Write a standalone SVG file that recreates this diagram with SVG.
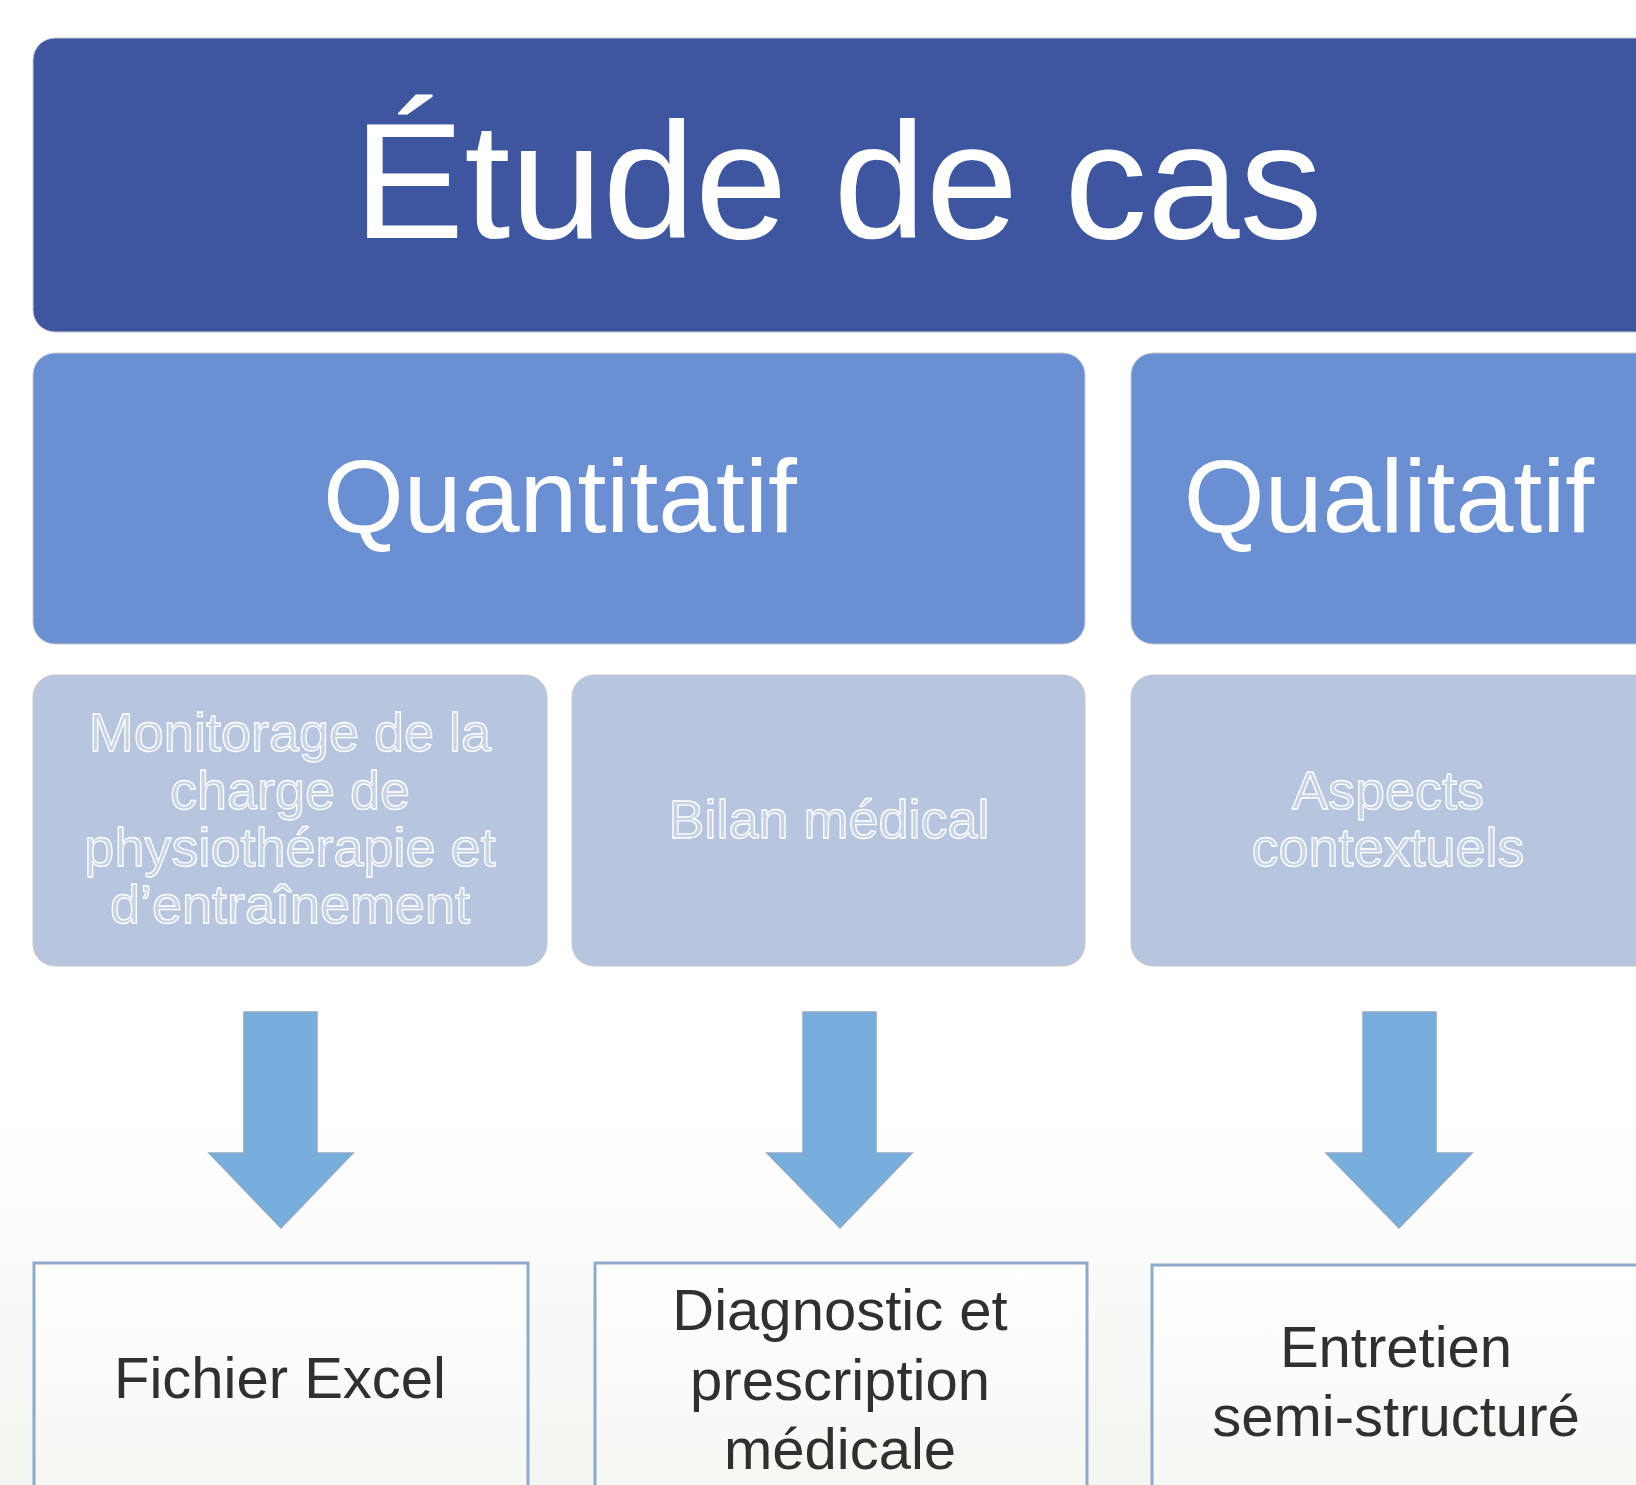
<svg xmlns="http://www.w3.org/2000/svg" width="1636" height="1485" viewBox="0 0 1636 1485">
<defs>
<linearGradient id="bg" x1="0" y1="0" x2="0" y2="1">
<stop offset="0" stop-color="#ffffff"/>
<stop offset="0.75" stop-color="#ffffff"/>
<stop offset="1" stop-color="#f3f5f0"/>
</linearGradient>
<linearGradient id="boxg" x1="0" y1="0" x2="0" y2="1">
<stop offset="0" stop-color="#ffffff"/>
<stop offset="1" stop-color="#f5f7f2"/>
</linearGradient>
<style>
.top{fill:#3e56a0;stroke:#c8c8cc;stroke-width:1}
.mid{fill:#6a8fd3;stroke:#c8c8cc;stroke-width:1}
.sub{fill:#b8c5de;stroke:#c8c8cc;stroke-width:1}
.out{fill:url(#boxg);stroke:#8eaacb;stroke-width:3}
.arr{fill:#78aedc;stroke:#8fa8c6;stroke-width:1.5}
.t1{font-family:"Liberation Sans",Arial,sans-serif;fill:#ffffff;text-anchor:middle}
.t2{font-family:"Liberation Sans",Arial,sans-serif;fill:#c9d3e6;stroke:#ffffff;stroke-width:1.3;text-anchor:middle;font-size:54px}
.t3{font-family:"Liberation Sans",Arial,sans-serif;fill:#303030;text-anchor:middle;font-size:58px}
</style>
</defs>
<rect x="0" y="0" width="1636" height="1485" fill="url(#bg)"/>
<g id="node-etude">
<rect class="top" x="33" y="38" width="1640" height="294" rx="22"/>
<text class="t1" x="838" y="238" font-size="166">Étude de cas</text>
</g>
<g id="node-quantitatif">
<rect class="mid" x="33" y="353" width="1052" height="291" rx="22"/>
<text class="t1" x="560" y="532" font-size="104">Quantitatif</text>
</g>
<g id="node-qualitatif">
<rect class="mid" x="1131" y="353" width="540" height="291" rx="22"/>
<text class="t1" x="1389" y="532" font-size="104">Qualitatif</text>
</g>
<g id="node-monitorage">
<rect class="sub" x="33" y="675" width="514" height="291" rx="22"/>
<text class="t2" x="290" y="751">Monitorage de la</text>
<text class="t2" x="290" y="809">charge de</text>
<text class="t2" x="290" y="866">physiothérapie et</text>
<text class="t2" x="290" y="923">d’entraînement</text>
</g>
<g id="node-bilan">
<rect class="sub" x="572" y="675" width="513" height="291" rx="22"/>
<text class="t2" x="829" y="838">Bilan médical</text>
</g>
<g id="node-aspects">
<rect class="sub" x="1131" y="675" width="540" height="291" rx="22"/>
<text class="t2" x="1388" y="809">Aspects</text>
<text class="t2" x="1388" y="866">contextuels</text>
</g>
<g id="connectors">
<polygon class="arr" points="244,1012 317,1012 317,1153 353,1153 281,1228 209,1153 244,1153"/>
<polygon class="arr" points="803,1012 876,1012 876,1153 912,1153 840,1228 767,1153 803,1153"/>
<polygon class="arr" points="1363,1012 1436,1012 1436,1153 1472,1153 1399,1228 1326,1153 1363,1153"/>
</g>
<g id="node-excel">
<rect class="out" x="34" y="1263" width="494" height="240"/>
<text class="t3" x="280" y="1398">Fichier Excel</text>
</g>
<g id="node-diagnostic">
<rect class="out" x="595" y="1263" width="492" height="240"/>
<text class="t3" x="840" y="1330">Diagnostic et</text>
<text class="t3" x="840" y="1400">prescription</text>
<text class="t3" x="840" y="1469">médicale</text>
</g>
<g id="node-entretien">
<rect class="out" x="1152" y="1265" width="520" height="240"/>
<text class="t3" x="1396" y="1367">Entretien</text>
<text class="t3" x="1396" y="1436">semi-structuré</text>
</g>
</svg>
